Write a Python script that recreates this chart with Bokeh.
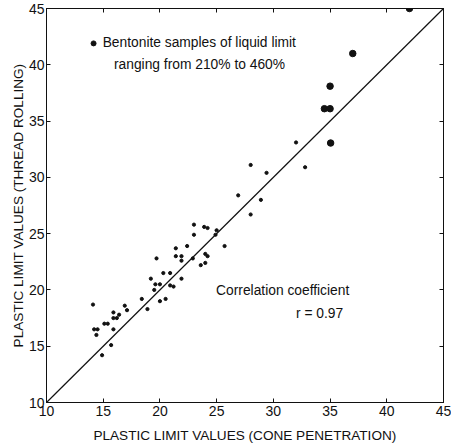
from bokeh.plotting import figure
from bokeh.models import Label, LinearAxis, Range1d, FixedTicker
from bokeh.embed import file_html
from bokeh.resources import INLINE

# Data
cone_small = [32.0, 32.8, 28.0, 29.4, 26.9, 28.9, 28.0, 25.7, 25.0, 24.9,
              23.0, 23.0, 23.9, 24.2, 22.4, 21.4, 21.4, 21.9, 21.9, 22.9,
              24.0, 24.2, 24.0, 23.6, 19.7, 20.3, 20.9, 21.9, 19.2, 19.6,
              20.0, 20.9, 21.2, 19.5, 20.5, 20.0, 18.4, 18.9, 16.9, 17.1,
              16.4, 15.9, 15.9, 16.2, 15.1, 15.4, 15.9, 14.1, 14.2, 14.5,
              14.4, 15.7, 14.9]
thread_small = [33.1, 30.9, 31.1, 30.4, 28.4, 28.0, 26.7, 23.9, 25.3, 24.9,
                25.8, 24.9, 25.6, 25.5, 23.9, 23.7, 23.0, 23.0, 22.6, 22.8,
                23.2, 23.0, 22.4, 22.2, 22.8, 21.5, 21.5, 21.0, 21.0, 20.5,
                20.5, 20.4, 20.3, 20.0, 19.2, 19.0, 19.2, 18.3, 18.6, 18.2,
                17.8, 18.0, 17.5, 17.5, 17.0, 17.0, 16.5, 18.7, 16.5, 16.5,
                16.0, 15.1, 14.2]
cone_big = [42.0, 37.0, 35.0, 34.5, 35.0, 35.05]
thread_big = [45.0, 41.0, 38.1, 36.1, 36.1, 33.05]
line_x = [10, 45]
line_y = [10, 45]
ticks = [10, 15, 20, 25, 30, 35, 40, 45]
legend_x = [14.15]
legend_y = [41.9]

FONT = "Liberation Sans"
INK = "#111111"

p = figure(width=451, height=445, output_backend="svg", toolbar_location=None,
           x_range=Range1d(10, 45), y_range=Range1d(10, 45),
           min_border_left=46, min_border_right=8, min_border_top=8,
           min_border_bottom=43)
p.grid.visible = False
p.outline_line_color = INK
p.outline_line_width = 1
p.background_fill_color = "white"
p.border_fill_color = "white"

for ax in (p.xaxis[0], p.yaxis[0]):
    ax.ticker = FixedTicker(ticks=ticks)
    ax.major_tick_in = 4
    ax.major_tick_out = 0
    ax.minor_tick_line_color = None
    ax.axis_line_color = INK
    ax.major_tick_line_color = INK
    ax.major_label_text_font = FONT
    ax.major_label_text_font_size = "14px"
    ax.major_label_text_color = INK
    ax.axis_label_text_font = FONT
    ax.axis_label_text_font_size = "13.6px"
    ax.axis_label_text_font_style = "normal"
    ax.axis_label_text_color = INK

p.xaxis[0].major_label_standoff = 3
p.xaxis[0].axis_label_standoff = 9
p.yaxis[0].major_label_standoff = 2
p.yaxis[0].axis_label_standoff = 0

p.xaxis[0].axis_label = "PLASTIC LIMIT VALUES (CONE PENETRATION)"
p.yaxis[0].axis_label = "PLASTIC LIMIT VALUES (THREAD ROLLING)"

for loc in ("above", "right"):
    a = LinearAxis(ticker=FixedTicker(ticks=ticks), major_tick_in=4,
                   major_tick_out=0, minor_tick_line_color=None,
                   major_label_text_font_size="0px", axis_line_color=INK,
                   major_tick_line_color=INK, major_label_standoff=0)
    a.major_label_text_color = None
    p.add_layout(a, loc)

p.line(line_x, line_y, line_color=INK, line_width=1.2)
p.scatter(cone_small, thread_small, size=3.2, color=INK)
p.scatter(cone_big, thread_big, size=6.5, color=INK)
p.scatter(legend_x, legend_y, size=5, color=INK)

def lab(x, y, t):
    p.add_layout(Label(x=x, y=y, text=t, text_font=FONT, text_font_size="13.8px",
                       text_color=INK, text_baseline="middle", text_align="left"))

lab(14.95, 41.95, "Bentonite samples of liquid limit")
lab(15.95, 40.0, "ranging from 210% to 460%")
lab(24.95, 19.95, "Correlation coefficient")
lab(32.0, 17.95, "r = 0.97")

open("out.html", "w").write(file_html(p, INLINE))
